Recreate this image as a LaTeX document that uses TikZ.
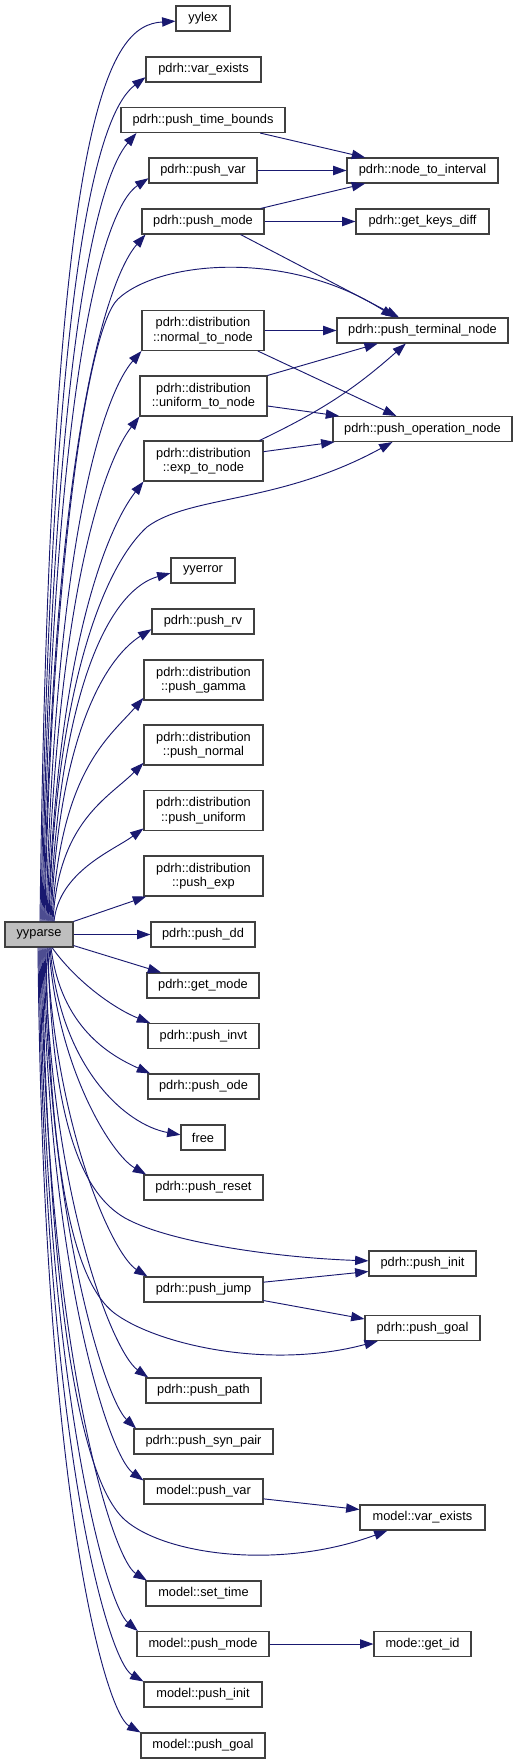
\documentclass[tikz,border=0pt]{standalone}
\usepackage{fontspec}
\setmainfont{Liberation Sans}
\usepackage{xcolor}
\usepackage{tikz}
\usetikzlibrary{arrows.meta}
\definecolor{callblue}{HTML}{191970}
\definecolor{boxline}{HTML}{404040}

\begin{document}
\begin{tikzpicture}[x=0.75pt,y=0.75pt,>={Triangle[length=10pt,width=7pt]},
  fn/.style={draw=boxline,line width=0.8pt,fill=white,font={\fontsize{9.6}{10.8}\selectfont},inner sep=2pt,minimum height=18.75pt,align=center},
  wd/.style={minimum width=#1*0.75pt},
  dbl/.style={minimum height=30pt},
  callto/.style={->,draw=callblue,line width=0.7pt}]
  \useasboundingbox (0,0) rectangle (517,-1764);
  % 호출하는 함수
  \node[fn,wd=68,fill=gray!50] (yyparse) at (39,-934.5) {yyparse};
  % 첫 단계 호출
  \node[fn,wd=54] (yylex) at (203,-18.5) {yylex};
  \node[fn,wd=115] (pve) at (203.5,-69.5) {pdrh::var\_exists};
  \node[fn,wd=164] (ptb) at (203,-120) {pdrh::push\_time\_bounds};
  \node[fn,wd=108] (pvar) at (203,-170.5) {pdrh::push\_var};
  \node[fn,wd=122] (pmode) at (203,-221.5) {pdrh::push\_mode};
  \node[fn,dbl,wd=122] (ntn) at (203,-330.5) {pdrh::distribution\\::normal\_to\_node};
  \node[fn,dbl,wd=127] (utn) at (203.5,-396) {pdrh::distribution\\::uniform\_to\_node};
  \node[fn,dbl,wd=119] (etn) at (203.5,-461) {pdrh::distribution\\::exp\_to\_node};
  \node[fn,wd=64] (yyerror) at (203,-570.5) {yyerror};
  \node[fn,wd=102] (prv) at (203,-621.5) {pdrh::push\_rv};
  \node[fn,dbl,wd=119] (pgamma) at (203.5,-680) {pdrh::distribution\\::push\_gamma};
  \node[fn,dbl,wd=119] (pnormal) at (203.5,-745) {pdrh::distribution\\::push\_normal};
  \node[fn,dbl,wd=119] (puniform) at (203.5,-810.5) {pdrh::distribution\\::push\_uniform};
  \node[fn,dbl,wd=119] (pexp) at (203.5,-876) {pdrh::distribution\\::push\_exp};
  \node[fn,wd=104] (pdd) at (203,-934.5) {pdrh::push\_dd};
  \node[fn,wd=112] (getmode) at (203,-985.5) {pdrh::get\_mode};
  \node[fn,wd=111] (pinvt) at (203.5,-1036) {pdrh::push\_invt};
  \node[fn,wd=111] (pode) at (203.5,-1086.5) {pdrh::push\_ode};
  \node[fn,wd=44] (free) at (203,-1137.5) {free};
  \node[fn,wd=119] (preset) at (203.5,-1187.5) {pdrh::push\_reset};
  \node[fn,wd=119] (pjump) at (203.5,-1289.5) {pdrh::push\_jump};
  \node[fn,wd=115] (ppath) at (203.5,-1390.5) {pdrh::push\_path};
  \node[fn,wd=139] (psyn) at (203.5,-1441.5) {pdrh::push\_syn\_pair};
  \node[fn,wd=119] (mvar) at (203.5,-1491.5) {model::push\_var};
  \node[fn,wd=115] (mtime) at (203.5,-1593.5) {model::set\_time};
  \node[fn,wd=132] (mmode) at (203,-1644) {model::push\_mode};
  \node[fn,wd=118] (minit) at (203,-1694.5) {model::push\_init};
  \node[fn,wd=124] (mgoal) at (203,-1745.5) {model::push\_goal};
  % 둘째 단계 호출
  \node[fn,wd=151] (nti) at (422.5,-170.5) {pdrh::node\_to\_interval};
  \node[fn,wd=133] (gkd) at (422.5,-221.5) {pdrh::get\_keys\_diff};
  \node[fn,wd=171] (pterm) at (422.5,-330.5) {pdrh::push\_terminal\_node};
  \node[fn,wd=179] (pop) at (422.5,-429) {pdrh::push\_operation\_node};
  \node[fn,wd=107] (pinit) at (422.5,-1263.5) {pdrh::push\_init};
  \node[fn,wd=115] (pgoal) at (422.5,-1328) {pdrh::push\_goal};
  \node[fn,wd=125] (mve) at (422.5,-1517.5) {model::var\_exists};
  \node[fn,wd=97] (getid) at (422.5,-1644) {mode::get\_id};
  % yyparse 위쪽으로
  \draw[callto] ([xshift=0.75pt]yyparse.north) .. controls +(10,820) and +(-66,-4) .. ([yshift=-2pt]yylex.west);
  \draw[callto] ([xshift=1.5pt]yyparse.north) .. controls +(10,700) and +(-40,-30) .. ([yshift=4pt]pve.south west);
  \draw[callto] ([xshift=2.25pt]yyparse.north) .. controls +(10,600) and +(-35,-40) .. ([xshift=12pt]ptb.south west);
  \draw[callto] ([xshift=3pt]yyparse.north) .. controls +(10,550) and +(-45,-30) .. ([yshift=4pt]pvar.south west);
  \draw[callto] ([xshift=3.75pt]yyparse.north) .. controls +(10,500) and +(-35,-40) .. ([xshift=3pt]pmode.south west);
  \draw[callto] ([xshift=4.5pt]yyparse.north) .. controls +(5,322) and +(-33,-31) .. (118,-299) .. controls +(42,39) and +(-105,68) .. ([xshift=43.5pt]pterm.north west);
  \draw[callto] ([xshift=5.25pt]yyparse.north) .. controls +(10,400) and +(-35,-40) .. (ntn.south west);
  \draw[callto] ([xshift=6pt]yyparse.north) .. controls +(10,330) and +(-35,-45) .. (utn.south west);
  \draw[callto] ([xshift=6.75pt]yyparse.north) .. controls +(10,280) and +(-35,-45) .. (etn.south west);
  \draw[callto] ([xshift=7.5pt]yyparse.north) .. controls +(6,222) and +(-47,-43) .. (147,-527) .. controls +(43,32) and +(-113,-62) .. ([xshift=45pt]pop.south west);
  \draw[callto] ([xshift=8.25pt]yyparse.north) .. controls +(10,250) and +(-55,-15) .. ([yshift=-2pt]yyerror.west);
  \draw[callto] ([xshift=9pt]yyparse.north) .. controls +(8,200) and +(-40,-25) .. ([yshift=4pt]prv.south west);
  \draw[callto] ([xshift=9.75pt]yyparse.north) .. controls +(8,150) and +(-35,-40) .. ([yshift=2pt]pgamma.south west);
  \draw[callto] ([xshift=10.5pt]yyparse.north) .. controls +(5,100) and +(-35,-35) .. ([yshift=2pt]pnormal.south west);
  \draw[callto] ([xshift=11.25pt]yyparse.north) .. controls +(5,50) and +(-30,-22) .. ([yshift=2pt]puniform.south west);
  \draw[callto] (yyparse.north east) -- ([xshift=2pt]pexp.south west);
  \draw[callto] (yyparse.east) -- (pdd.west);
  \draw[callto] ([yshift=1.5pt]yyparse.south east) -- ([xshift=11pt]getmode.north west);
  % yyparse 아래쪽으로
  \draw[callto] ([xshift=9.75pt]yyparse.south) .. controls +(25,-35) and +(-35,14) .. ([xshift=2pt]pinvt.north west);
  \draw[callto] ([xshift=9pt]yyparse.south) .. controls +(10,-80) and +(-40,18) .. ([xshift=2pt]pode.north west);
  \draw[callto] ([xshift=8.25pt]yyparse.south) .. controls +(10,-120) and +(-55,10) .. ([yshift=2pt]free.west);
  \draw[callto] ([xshift=7.5pt]yyparse.south) .. controls +(8,-120) and +(-35,20) .. ([xshift=2pt]preset.north west);
  \draw[callto] ([xshift=6.75pt]yyparse.south) .. controls +(4,-183) and +(-40,23) .. (125,-1218) .. controls +(45,-25) and +(-89,3) .. ([yshift=2pt]pinit.west);
  \draw[callto] ([xshift=6pt]yyparse.south) .. controls +(8,-180) and +(-35,22) .. ([xshift=3pt]pjump.north west);
  \draw[callto] ([xshift=5.25pt]yyparse.south) .. controls +(4,-253) and +(-37,25) .. (117,-1315) .. controls +(43,-30) and +(-108,-29) .. ([xshift=10pt]pgoal.south west);
  \draw[callto] ([xshift=4.5pt]yyparse.south) .. controls +(5,-250) and +(-35,25) .. ([xshift=2pt]ppath.north west);
  \draw[callto] ([xshift=3.75pt]yyparse.south) .. controls +(5,-280) and +(-30,28) .. ([xshift=2pt]psyn.north west);
  \draw[callto] ([xshift=3pt]yyparse.south) .. controls +(5,-320) and +(-35,25) .. ([yshift=-1.5pt]mvar.north west);
  \draw[callto] ([xshift=2.25pt]yyparse.south) .. controls +(6,-353) and +(-45,40) .. (125,-1520) .. controls +(40,-35) and +(-108,-40) .. ([xshift=21pt]mve.south west);
  \draw[callto] ([xshift=1.5pt]yyparse.south) .. controls +(5,-400) and +(-35,22) .. ([xshift=1pt]mtime.north west);
  \draw[callto] ([xshift=0.75pt]yyparse.south) .. controls +(5,-450) and +(-30,25) .. ([xshift=1pt]mmode.north west);
  \draw[callto] (yyparse.south) .. controls +(5,-500) and +(-35,20) .. (minit.north west);
  \draw[callto] ([xshift=-0.75pt]yyparse.south) .. controls +(5,-550) and +(-35,20) .. (mgoal.north west);
  % 둘째 단계 화살표
  \draw[callto] ([xshift=-19pt]ptb.south east) -- ([xshift=14pt]nti.north west);
  \draw[callto] (pvar.east) -- (nti.west);
  \draw[callto] ([xshift=-3pt]pmode.north east) -- ([xshift=14pt]nti.south west);
  \draw[callto] (pmode.east) -- (gkd.west);
  \draw[callto] ([xshift=-18pt]pmode.south east) -- ([xshift=47pt]pterm.north west);
  \draw[callto] (ntn.east) -- (pterm.west);
  \draw[callto] ([xshift=-5pt]ntn.south east) -- ([xshift=48pt]pop.north west);
  \draw[callto] (utn.north east) -- ([xshift=31pt]pterm.south west);
  \draw[callto] ([yshift=-7.5pt]utn.east) -- ([xshift=5pt]pop.north west);
  \draw[callto] ([xshift=-3pt]etn.north east) to[bend right=8] ([xshift=52pt]pterm.south west);
  \draw[callto] ([yshift=7pt]etn.east) -- ([xshift=1.5pt]pop.south west);
  \draw[callto] ([yshift=5.5pt]pjump.east) -- ([yshift=-6pt]pinit.west);
  \draw[callto] ([yshift=1.5pt]pjump.south east) -- ([yshift=-3pt]pgoal.north west);
  \draw[callto] ([yshift=-5.5pt]mvar.east) -- ([yshift=6pt]mve.west);
  \draw[callto] (mmode.east) -- (getid.west);
\end{tikzpicture}
\end{document}
